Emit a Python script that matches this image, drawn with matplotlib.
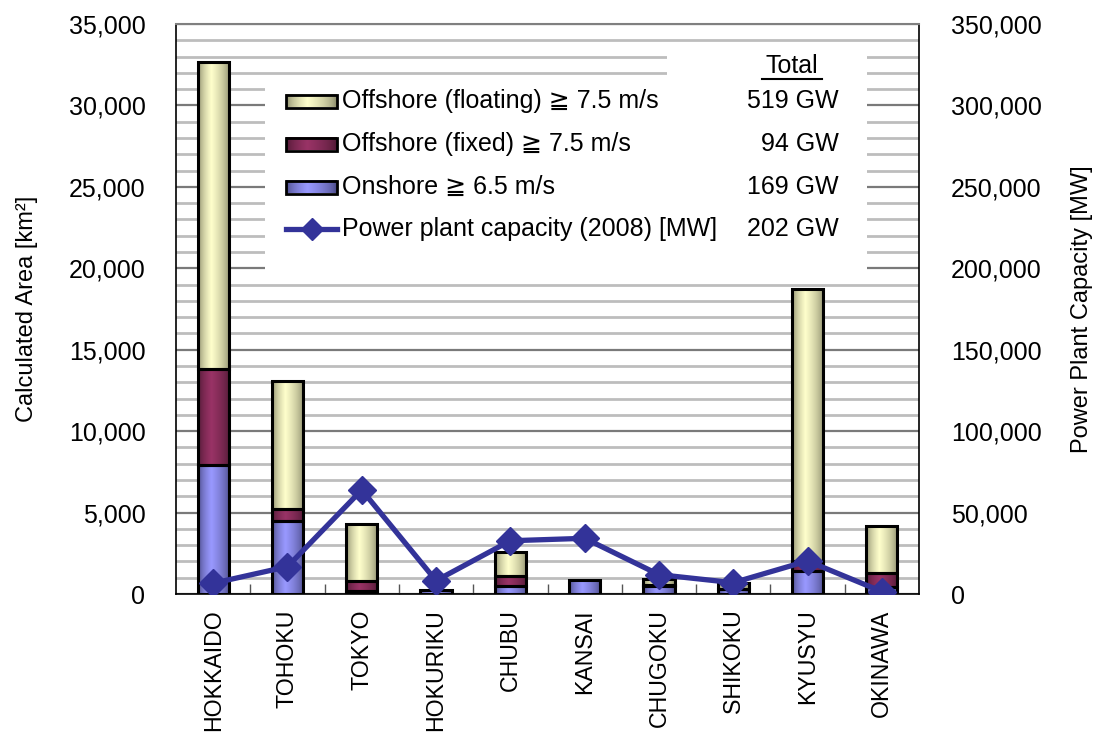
import numpy as np
import matplotlib
matplotlib.use("Agg")
import matplotlib.pyplot as plt
from matplotlib.patches import Rectangle
from matplotlib.lines import Line2D
from matplotlib.ticker import FuncFormatter, MultipleLocator

# ---------------- data ----------------
regions = ["HOKKAIDO", "TOHOKU", "TOKYO", "HOKURIKU", "CHUBU",
           "KANSAI", "CHUGOKU", "SHIKOKU", "KYUSYU", "OKINAWA"]
onshore = [7920, 4500, 180, 245, 490, 860, 500, 300, 1410, 450]
fixed = [5880, 720, 620, 0, 615, 0, 30, 30, 620, 860]
floating = [18870, 7880, 3500, 0, 1475, 0, 390, 345, 16700, 2890]
capacity = [6600, 16800, 63900, 8200, 32700, 34200, 11900, 6950, 20300, 1500]

series_labels = ["Offshore (floating) \u2267 7.5 m/s",
                 "Offshore (fixed) \u2267 7.5 m/s",
                 "Onshore \u2267 6.5 m/s",
                 "Power plant capacity (2008) [MW]"]
totals = ["519 GW", "94 GW", "169 GW", "202 GW"]

FONT = ["Liberation Sans", "DejaVu Sans"]
plt.rcParams["font.family"] = FONT
FS = 18
FSX = 16.7
FSL = 17

W, H = 1097, 738
fig = plt.figure(figsize=(W / 100, H / 100), dpi=100)
L, R, T, B = 176, 919, 24, 594
ax1 = fig.add_axes([L / W, 1 - B / H, (R - L) / W, (B - T) / H])
ax2 = ax1.twinx()

light = {"float": np.array([255, 255, 204]) / 255,
         "fixed": np.array([153, 51, 102]) / 255,
         "on": np.array([153, 153, 255]) / 255}
dark = {"float": np.array([125, 125, 95]) / 255,
        "fixed": np.array([70, 22, 46]) / 255,
        "on": np.array([65, 65, 120]) / 255}


def gradient(key, n=80):
    t = np.linspace(0, 1, n)
    w = np.where(t < 0.42, t / 0.42, (1 - t) / 0.58)
    w = np.clip(w, 0, 1) ** 0.55
    c = dark[key][None, :] + (light[key] - dark[key])[None, :] * w[:, None]
    return c[None, :, :]


x = np.arange(len(regions))
bw = 0.42
bottoms = np.zeros(len(regions))
for vals, key in [(onshore, "on"), (fixed, "fixed"), (floating, "float")]:
    vals = np.array(vals, dtype=float)
    bars = ax1.bar(x, vals, bw, bottom=bottoms, facecolor="none",
                   edgecolor="black", linewidth=2.2, zorder=4)
    for rect, v in zip(bars, vals):
        if v <= 0:
            rect.set_visible(False)
            continue
        x0, y0 = rect.get_x(), rect.get_y()
        ax1.imshow(gradient(key), extent=(x0, x0 + rect.get_width(), y0, y0 + v),
                   aspect="auto", zorder=3, interpolation="bilinear")
    bottoms += vals

ax1.set_xlim(-0.5, len(regions) - 0.5)
ax1.set_ylim(0, 35000)
ax1.set_aspect("auto")

# grid
ax1.yaxis.set_major_locator(MultipleLocator(5000))
ax1.yaxis.set_minor_locator(MultipleLocator(1000))
ax1.set_axisbelow(True)
ax1.grid(True, axis="y", which="minor", color="#bdbdbd", lw=2.0, zorder=0.5)
ax1.grid(True, axis="y", which="major", color="#7a7a7a", lw=1.6, zorder=0.6)
ax1.yaxis.set_major_formatter(FuncFormatter(lambda v, p: f"{int(v):,}"))
ax1.tick_params(axis="y", which="both", length=0, labelsize=FS, pad=22)

ax1.set_xticks(x)
ax1.set_xticklabels(regions, rotation=90, fontsize=FSX)
ax1.set_xticks(x[:-1] + 0.5, minor=True)
ax1.tick_params(axis="x", which="major", length=0, pad=11)
ax1.tick_params(axis="x", which="minor", length=7, direction="in", width=1, color="#555555")

# white legend boxes covering gridlines
ax1.add_patch(Rectangle(((265 - L) / (R - L), (B - 277) / (B - T)),
                        (867 - 265) / (R - L), (277 - 80) / (B - T),
                        transform=ax1.transAxes, facecolor="white",
                        edgecolor="none", zorder=1))
ax1.add_patch(Rectangle(((667 - L) / (R - L), (B - 277) / (B - T)),
                        (867 - 667) / (R - L), (277 - 48) / (B - T),
                        transform=ax1.transAxes, facecolor="white",
                        edgecolor="none", zorder=1))

ax1.set_ylabel("Calculated Area [km\u00b2]", fontsize=FSL, labelpad=22)

for s in ["left", "bottom", "right"]:
    ax1.spines[s].set_color("black")
    ax1.spines[s].set_linewidth(1.2)
ax1.spines["top"].set_color("#808080")
ax1.spines["top"].set_linewidth(1.5)

# line on secondary axis
ax2.plot(x, capacity, color="#333399", lw=3.8, marker="D", ms=14, zorder=5)
ax2.set_ylim(0, 350000)
ax2.yaxis.set_major_locator(MultipleLocator(50000))
ax2.yaxis.set_major_formatter(FuncFormatter(lambda v, p: f"{int(v):,}"))
ax2.tick_params(axis="y", length=0, labelsize=FS, pad=23)
ax2.set_ylabel("Power Plant Capacity [MW]", fontsize=FSL, labelpad=21)
for s in ax2.spines.values():
    s.set_visible(False)

# manual legend in pixel coordinates
ov = fig.add_axes([0, 0, 1, 1])
ov.set_xlim(0, W)
ov.set_ylim(H, 0)
ov.axis("off")
rows = [101, 144, 187, 229]
keys = ["float", "fixed", "on"]
sx0, sx1, sh = 286, 337, 13
for yy, key in zip(rows[:3], keys):
    ov.imshow(gradient(key), extent=(sx0, sx1, yy + sh / 2, yy - sh / 2),
              aspect="auto", interpolation="bilinear", zorder=3)
    ov.add_patch(Rectangle((sx0, yy - sh / 2), sx1 - sx0, sh, facecolor="none",
                           edgecolor="black", lw=2, zorder=4))
ov.plot([sx0, sx1], [rows[3], rows[3]], color="#333399", lw=3.8, zorder=4)
ov.plot([(sx0 + sx1) / 2], [rows[3]], marker="D", ms=11, color="#333399", zorder=5)
ov.set_xlim(0, W)
ov.set_ylim(H, 0)
for yy, lab, tot in zip(rows, series_labels, totals):
    ov.text(342, yy, lab, fontsize=FS, va="center", ha="left", family=FONT)
    ov.text(839, yy, tot, fontsize=FS, va="center", ha="right", family=FONT)
ov.text(792, 66, "Total", fontsize=FS, va="center", ha="center", family=FONT)
ov.add_line(Line2D([762, 822], [79, 79], color="black", lw=1.5))

fig.savefig("out.png", dpi=100)
